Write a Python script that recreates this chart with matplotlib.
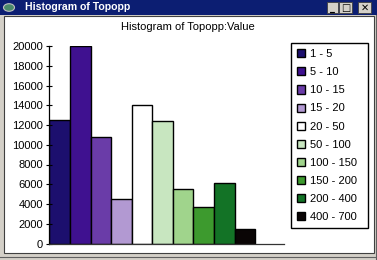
import matplotlib
matplotlib.use("Agg")
import matplotlib.pyplot as plt
from matplotlib.patches import Rectangle, Circle
from matplotlib.lines import Line2D

W, H = 377, 260

bins = ["1 - 5", "5 - 10", "10 - 15", "15 - 20", "20 - 50",
        "50 - 100", "100 - 150", "150 - 200", "200 - 400", "400 - 700"]
counts = [12500, 20000, 10800, 4500, 14000, 12400, 5500, 3700, 6100, 1500]
yticks = [0, 2000, 4000, 6000, 8000, 10000, 12000, 14000, 16000, 18000, 20000]

bar_colors = ["#1c0f6e", "#3f1190", "#6a3ca8", "#b299d2", "#ffffff",
              "#c8e6c0", "#a0d48c", "#3d9a2e", "#137326", "#0a0505"]

plt.rcParams["font.family"] = ["Liberation Sans", "DejaVu Sans"]


def fx(x):
    return x / W


def fy(y):
    return 1 - y / H


def px_rect(fig, x0, y0, x1, y1, **kw):
    r = Rectangle((fx(x0), fy(y1)), fx(x1) - fx(x0), fy(y0) - fy(y1),
                  transform=fig.transFigure, **kw)
    fig.add_artist(r)
    return r


fig = plt.figure(figsize=(W / 100, H / 100), dpi=100, facecolor="#d4d0c8")

# window frame
px_rect(fig, 0, 0, W, 15, facecolor="#0c1e72", edgecolor="none", zorder=0)
px_rect(fig, 3.5, 16, 373.5, 252.5, facecolor="white", edgecolor="#404040",
        linewidth=0.8, zorder=0)
fig.add_artist(Line2D([fx(0), fx(W)], [fy(257), fy(257)], color="#606060",
                      linewidth=0.8, transform=fig.transFigure))
fig.add_artist(Line2D([fx(376), fx(376)], [fy(15), fy(260)], color="#606060",
                      linewidth=0.8, transform=fig.transFigure))

# title bar icon and text
fig.add_artist(Circle((fx(9), fy(7.5)), 5.5 / W, transform=fig.transFigure,
                      facecolor="#4a8a6a", edgecolor="#c0c0c0", linewidth=0.8))
fig.text(fx(25), fy(7.5), "Histogram of Topopp", color="white",
         fontweight="bold", fontsize=7.6, ha="left", va="center")

# title bar buttons
for x0, x1, glyph in [(327, 338, "_"), (339, 352, "□"), (358, 371, "✕")]:
    px_rect(fig, x0, 2.5, x1, 13, facecolor="#d4d0c8", edgecolor="#404040",
            linewidth=0.6, zorder=1)
    fig.text(fx((x0 + x1) / 2), fy(8), glyph, fontsize=7, fontweight="bold",
             ha="center", va="center", color="black",
             family=["DejaVu Sans"])

# chart title
fig.text(fx(187.5), fy(27.5), "Histogram of Topopp:Value", fontsize=8,
         ha="center", va="center")

# plot area
ax = fig.add_axes([fx(49.5), fy(243.5), (283.5 - 49.5) / W, (243.5 - 46) / H])
ax.set_facecolor("none")

x = list(range(len(bins)))
bars = ax.bar(x, counts, width=1.0, align="edge", color=bar_colors,
              edgecolor="black", linewidth=1.0)

ax.set_xlim(0, 234 / 20.57)
ax.set_ylim(0, 20000)
ax.set_yticks(yticks)
ax.set_yticklabels([str(v) for v in yticks], fontsize=8)
ax.tick_params(axis="y", direction="inout", length=5, width=0.8, pad=2)
ax.set_xticks([])
for s in ["top", "right"]:
    ax.spines[s].set_visible(False)
ax.spines["left"].set_linewidth(0.9)
ax.spines["bottom"].set_linewidth(0.9)
ax.spines["bottom"].set_color("#333333")

# legend
leg = fig.legend(bars, bins, loc="upper left",
                 bbox_to_anchor=(fx(291), fy(229), fx(367.5) - fx(291), fy(43) - fy(229)),
                 mode="expand", borderaxespad=0, fontsize=8,
                 handlelength=0.75, handleheight=0.75, handletextpad=0.45,
                 labelspacing=0.73, borderpad=0.55, fancybox=False,
                 framealpha=1, edgecolor="black")
leg.get_frame().set_linewidth(1.0)

fig.savefig("out.png", dpi=100, facecolor=fig.get_facecolor())
